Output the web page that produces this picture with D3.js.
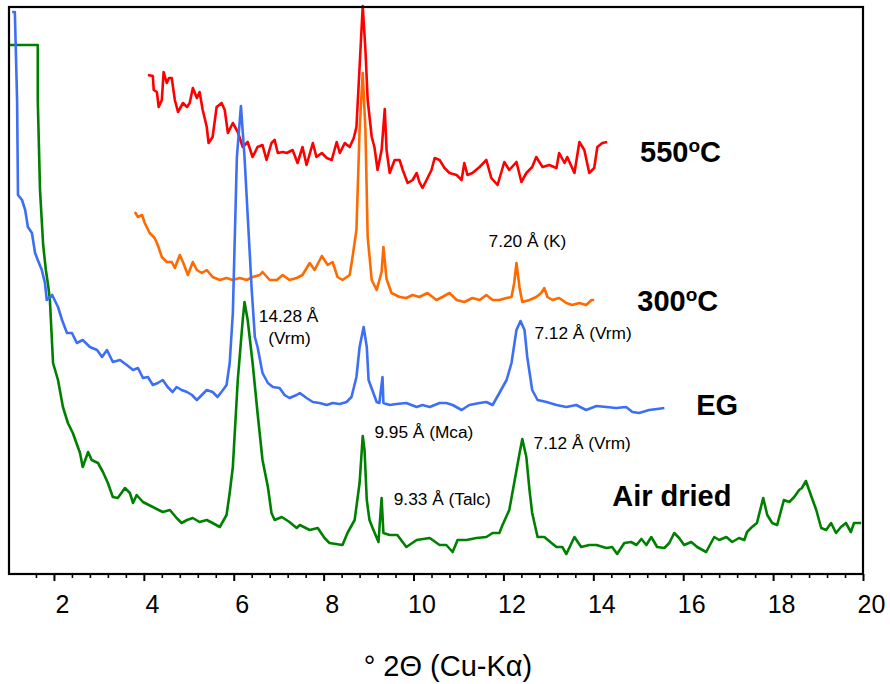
<!DOCTYPE html>
<html lang="en">
<head>
<meta charset="UTF-8">
<title>XRD patterns</title>
<script src="https://cdn.jsdelivr.net/npm/d3@7/dist/d3.min.js"></script>
<style>
  body{margin:0;background:#fff;}
  svg{display:block;font-family:"Liberation Sans",Arial,Helvetica,sans-serif;}
</style>
</head>
<body>
<div id="draw"></div>
<script>
// [2theta, intensity (offset, arbitrary units)]
var airDried = [[1.00,529],[1.64,529],[1.64,474],[1.69,384],[1.76,329],[1.82,304],[1.87,289],[1.91,274],[1.98,211],[2.09,194],[2.20,167],[2.31,151],[2.42,141],[2.58,121],[2.64,107],[2.76,122],[2.84,114],[2.98,111],[3.09,102],[3.20,91],[3.31,77],[3.42,76],[3.58,86],[3.69,81],[3.76,71],[3.84,79],[3.98,72],[4.20,67],[4.42,62],[4.58,64],[4.73,56],[4.84,51],[4.96,54],[5.09,56],[5.24,52],[5.40,54],[5.53,51],[5.69,47],[5.84,59],[5.91,81],[5.98,107],[6.09,194],[6.20,254],[6.24,272],[6.31,254],[6.42,211],[6.53,161],[6.64,114],[6.76,87],[6.84,61],[6.91,54],[7.07,57],[7.24,52],[7.40,46],[7.47,49],[7.69,44],[7.87,46],[8.02,36],[8.13,31],[8.42,29],[8.53,41],[8.69,54],[8.80,91],[8.87,138],[8.91,124],[8.96,74],[9.02,54],[9.09,46],[9.22,32],[9.29,76],[9.33,41],[9.47,39],[9.64,39],[9.84,27],[10.07,34],[10.36,36],[10.58,29],[10.73,29],[10.87,22],[10.98,34],[11.18,34],[11.40,36],[11.62,37],[11.76,41],[11.91,41],[11.98,49],[12.13,64],[12.24,91],[12.36,121],[12.42,135],[12.51,117],[12.58,84],[12.64,61],[12.76,37],[12.91,37],[13.07,31],[13.18,27],[13.31,27],[13.40,20],[13.58,37],[13.73,27],[13.91,29],[14.07,29],[14.29,26],[14.42,27],[14.53,20],[14.69,31],[14.84,32],[14.96,29],[15.07,35],[15.18,29],[15.29,37],[15.42,27],[15.58,26],[15.69,31],[15.80,41],[15.91,36],[16.02,29],[16.18,32],[16.31,27],[16.51,22],[16.69,37],[16.80,34],[16.96,37],[17.09,32],[17.24,36],[17.36,34],[17.42,42],[17.53,47],[17.64,51],[17.78,76],[17.87,59],[17.98,51],[18.09,49],[18.24,74],[18.36,72],[18.47,77],[18.58,84],[18.64,86],[18.73,93],[18.84,79],[18.96,64],[19.07,46],[19.18,44],[19.29,51],[19.40,41],[19.51,47],[19.62,51],[19.73,42],[19.80,51],[19.96,51]];

var eg = [[1.07,562],[1.13,562],[1.18,474],[1.20,379],[1.29,374],[1.36,364],[1.42,347],[1.51,341],[1.58,321],[1.64,314],[1.73,304],[1.80,291],[1.84,274],[1.96,279],[2.09,267],[2.18,254],[2.29,241],[2.40,241],[2.51,231],[2.64,234],[2.80,227],[2.96,224],[3.07,217],[3.18,224],[3.31,212],[3.47,214],[3.62,209],[3.76,204],[3.87,206],[3.98,196],[4.09,197],[4.20,189],[4.31,191],[4.42,194],[4.53,187],[4.64,182],[4.73,187],[4.84,184],[4.96,182],[5.07,179],[5.18,174],[5.29,179],[5.40,184],[5.53,182],[5.64,177],[5.76,184],[5.84,189],[5.91,211],[5.98,261],[6.07,417],[6.16,468],[6.24,417],[6.40,284],[6.47,237],[6.53,227],[6.64,201],[6.76,191],[6.87,187],[7.02,186],[7.13,179],[7.24,176],[7.40,179],[7.47,181],[7.62,176],[7.76,172],[7.91,171],[8.07,169],[8.20,171],[8.36,170],[8.51,172],[8.62,177],[8.73,197],[8.80,227],[8.89,247],[8.96,227],[9.00,194],[9.18,172],[9.24,171],[9.31,197],[9.33,171],[9.47,169],[9.62,170],[9.84,171],[10.07,167],[10.20,169],[10.36,167],[10.58,171],[10.73,171],[10.87,169],[11.07,164],[11.24,169],[11.47,171],[11.62,172],[11.76,169],[11.91,181],[12.07,194],[12.18,211],[12.29,244],[12.38,253],[12.47,244],[12.53,217],[12.64,184],[12.76,174],[12.96,172],[13.18,169],[13.40,167],[13.62,169],[13.84,164],[14.07,168],[14.29,167],[14.51,166],[14.73,167],[14.87,162],[15.02,161],[15.24,164],[15.42,165],[15.58,166]];

var heated300 = [[3.80,362],[3.87,357],[3.96,359],[4.02,351],[4.13,341],[4.24,336],[4.31,329],[4.40,317],[4.51,312],[4.62,312],[4.69,306],[4.80,319],[4.87,312],[4.98,299],[5.09,312],[5.18,304],[5.29,301],[5.40,304],[5.53,297],[5.69,294],[5.84,296],[5.98,294],[6.13,296],[6.29,294],[6.42,297],[6.58,299],[6.64,302],[6.80,294],[6.96,294],[7.09,299],[7.24,294],[7.40,296],[7.53,299],[7.69,311],[7.80,304],[7.96,318],[8.09,309],[8.20,312],[8.31,297],[8.42,294],[8.58,299],[8.64,316],[8.73,344],[8.80,444],[8.87,501],[8.93,444],[8.98,337],[9.07,294],[9.18,284],[9.29,302],[9.33,327],[9.40,295],[9.51,281],[9.69,277],[9.84,276],[9.98,279],[10.13,277],[10.31,281],[10.51,274],[10.64,277],[10.80,281],[10.96,274],[11.13,272],[11.31,276],[11.47,274],[11.62,279],[11.76,274],[11.91,274],[12.07,276],[12.18,277],[12.24,291],[12.29,311],[12.36,286],[12.42,272],[12.58,274],[12.73,277],[12.84,281],[12.91,286],[12.98,277],[13.09,274],[13.24,276],[13.40,271],[13.53,269],[13.69,271],[13.84,269],[13.96,274],[14.02,274]];

var heated550 = [[4.09,499],[4.20,498],[4.22,484],[4.29,482],[4.33,467],[4.40,474],[4.44,502],[4.51,491],[4.56,496],[4.62,496],[4.69,474],[4.76,462],[4.87,471],[4.96,467],[5.02,471],[5.09,486],[5.18,476],[5.24,482],[5.31,464],[5.40,447],[5.44,431],[5.53,437],[5.62,467],[5.73,471],[5.80,464],[5.87,441],[5.98,451],[6.09,442],[6.20,427],[6.31,432],[6.42,417],[6.53,427],[6.64,429],[6.73,414],[6.84,431],[6.91,434],[6.98,421],[7.09,422],[7.18,421],[7.31,424],[7.42,411],[7.53,427],[7.62,409],[7.76,431],[7.84,417],[7.96,421],[8.07,416],[8.18,414],[8.29,432],[8.36,421],[8.47,431],[8.58,427],[8.67,436],[8.73,447],[8.80,507],[8.87,568],[8.93,524],[8.98,474],[9.07,437],[9.13,427],[9.20,404],[9.29,424],[9.36,465],[9.40,424],[9.47,401],[9.58,414],[9.69,414],[9.76,404],[9.87,391],[9.98,394],[10.07,401],[10.13,392],[10.20,386],[10.29,394],[10.40,404],[10.47,416],[10.58,414],[10.69,406],[10.80,401],[10.96,399],[11.07,394],[11.13,411],[11.20,399],[11.31,401],[11.47,407],[11.62,414],[11.73,396],[11.87,389],[12.02,412],[12.13,404],[12.29,412],[12.40,392],[12.51,401],[12.64,407],[12.73,417],[12.87,407],[13.02,409],[13.18,406],[13.24,421],[13.36,411],[13.42,417],[13.58,401],[13.69,432],[13.80,424],[13.91,401],[14.02,406],[14.09,427],[14.20,431],[14.31,432]];

var majorTicks = [2,4,6,8,10,12,14,16,18,20];
var minorTicks = [1.6,2.4,2.8,3.2,3.6,4.4,4.8,5.2,5.6,6.4,6.8,7.2,7.6,8.4,8.8,9.2,9.6,10.4,10.8,11.2,11.6,12.4,12.8,13.2,13.6,14.4,14.8,15.2,15.6,16.4,16.8,17.2,17.6,18.4,18.8,19.2,19.6];

// curve names, placed next to each pattern
var seriesLabels = [
    {text:"550", deg:true, x:15.04, y:412},
    {text:"300", deg:true, x:14.98, y:263},
    {text:"EG", deg:false, x:16.29, y:159},
    {text:"Air dried", deg:false, x:14.42, y:68}
];
// peak annotations
var peakLabels = [
    {text:"14.28 Å", x:7.22, y:252, anchor:"middle"},
    {text:"(Vrm)", x:7.24, y:230, anchor:"middle"},
    {text:"7.20 Å (K)", x:11.67, y:327, anchor:"start"},
    {text:"7.12 Å (Vrm)", x:12.69, y:235, anchor:"start"},
    {text:"9.95 Å (Mca)", x:9.13, y:136, anchor:"start"},
    {text:"7.12 Å (Vrm)", x:12.67, y:125, anchor:"start"},
    {text:"9.33 Å (Talc)", x:9.56, y:69, anchor:"start"}
];

var w = 890, h = 684;
var padL = 9, padR = 863, padT = 7, padB = 574;

var x = d3.scaleLinear().domain([1,20]).range([padL,padR]);
var y = d3.scaleLinear().domain([0,567]).range([padB,padT]);

var svg = d3.select("#draw").append("svg")
    .attr("width", w)
    .attr("height", h);

var line = d3.line()
    .x(function(d){return x(d[0]);})
    .y(function(d){return y(d[1]);});

var series = [
    {data:heated550, color:"#ff0000"},
    {data:heated300, color:"#ff6a00"},
    {data:airDried, color:"#008000"},
    {data:eg, color:"#3d6ff5"}
];

svg.selectAll("path.curve")
    .data(series)
    .enter()
    .append("path")
    .attr("class","curve")
    .attr("d", function(d){return line(d.data);})
    .attr("fill","none")
    .attr("stroke", function(d){return d.color;})
    .attr("stroke-width",2.6)
    .attr("stroke-linejoin","round");

// frame
svg.append("rect")
    .attr("x", padL)
    .attr("y", padT)
    .attr("width", padR-padL)
    .attr("height", padB-padT)
    .attr("fill","none")
    .attr("stroke","#000")
    .attr("stroke-width",2.2);

// minor ticks
var minorAxis = svg.append("g")
    .attr("transform","translate(0,"+padB+")")
    .call(d3.axisBottom(x).tickValues(minorTicks).tickSize(4).tickFormat(""));
minorAxis.select(".domain").remove();
minorAxis.selectAll("line").attr("stroke-width",1.6);

var xAxis = svg.append("g")
    .attr("transform","translate(0,"+padB+")")
    .call(d3.axisBottom(x).tickValues(majorTicks).tickSize(7).tickPadding(14).tickFormat(d3.format("d")));
xAxis.select(".domain").remove();
xAxis.selectAll("line").attr("stroke-width",2);
xAxis.selectAll("text")
    .attr("font-family","Liberation Sans, Arial, sans-serif")
    .attr("font-size",25)
    .attr("fill","#000")
    .attr("dx",8);

svg.append("text")
    .attr("x", 448)
    .attr("y", 676)
    .attr("text-anchor","middle")
    .attr("font-size",29)
    .text("° 2Θ (Cu-Kα)");

// series names
var names = svg.selectAll("text.name")
    .data(seriesLabels)
    .enter()
    .append("text")
    .attr("class","name")
    .attr("x", function(d){return x(d.x);})
    .attr("y", function(d){return y(d.y);})
    .attr("font-size",29)
    .attr("font-weight","bold");
names.append("tspan").text(function(d){return d.text;});
var deg = names.filter(function(d){return d.deg;});
deg.append("tspan").attr("font-size",19).attr("dy",-10).text("o");
deg.append("tspan").attr("dy",10).text("C");

svg.selectAll("text.peak")
    .data(peakLabels)
    .enter()
    .append("text")
    .attr("class","peak")
    .attr("x", function(d){return x(d.x);})
    .attr("y", function(d){return y(d.y);})
    .attr("text-anchor", function(d){return d.anchor;})
    .attr("font-size",17.3)
    .text(function(d){return d.text;});
</script>
</body>
</html>
